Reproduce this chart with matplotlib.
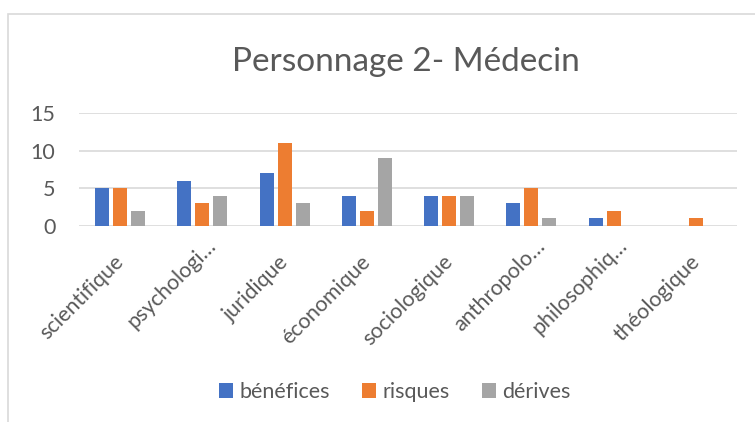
import matplotlib
matplotlib.use('Agg')
import matplotlib.pyplot as plt
import matplotlib.transforms as mtransforms
import numpy as np
from matplotlib.patches import Rectangle

categories = ['scientifique', 'psychologi…', 'juridique', 'économique',
              'sociologique', 'anthropolo…', 'philosophiq…', 'théologique']
benefices = [5, 6, 7, 4, 4, 3, 1, 0]
risques = [5, 3, 11, 2, 4, 5, 2, 1]
derives = [2, 4, 3, 9, 4, 1, 0, 0]
series_names = ['bénéfices', 'risques', 'dérives']

colours = ['#4472C4', '#ED7D31', '#A5A5A5']
text_col = '#595959'
plt.rcParams['font.family'] = ['Lato', 'DejaVu Sans']
fs = 15.5

fig = plt.figure(figsize=(7.55, 4.22), dpi=100, facecolor='w')
# chart frame (cropped at the right and bottom)
fig.patches.append(Rectangle((8/755, -0.1), 1.0, 1 - 14/422 + 0.1,
                             transform=fig.transFigure, fill=False,
                             edgecolor='#D9D9D9', linewidth=1.2))

ax = fig.add_axes([79/755, 1 - 226/422, (737 - 79)/755, (226 - 113)/422])
x = np.arange(len(categories))
width = 0.17
step = 0.22
handles = []
for i, vals in enumerate([benefices, risques, derives]):
    b = ax.bar(x + (i - 1)*step, vals, width, color=colours[i],
               edgecolor='none', zorder=3, label=series_names[i])
    handles.append(b)

ax.set_xlim(-0.5, len(categories) - 0.5)
ax.set_ylim(0, 15)
ax.set_yticks([0, 5, 10, 15])
ax.grid(axis='y', color='#D9D9D9', linewidth=1.2, zorder=0)
for s in ax.spines.values():
    s.set_visible(False)
ax.tick_params(axis='both', length=0, colors=text_col, labelsize=fs)
ax.tick_params(axis='y', pad=17)
ax.set_xticks(x)
ax.set_xticklabels(categories, rotation=45, ha='right', va='baseline',
                   rotation_mode='anchor', color=text_col, fontsize=fs)
ax.tick_params(axis='x', pad=0)
# excel places the truncated labels a bit further along the diagonal
for lbl in ax.get_xticklabels():
    if lbl.get_text().endswith('…'):
        dx, dy = 15, 21
    else:
        dx, dy = 5, 37
    off = mtransforms.ScaledTranslation(dx/100, -dy/100, fig.dpi_scale_trans)
    lbl.set_transform(lbl.get_transform() + off)

fig.text(0.537, 1 - 62/422, 'Personnage 2- Médecin', ha='center', va='center',
         fontsize=24, color=text_col)

fig.legend(handles=handles, labels=series_names, loc='center',
           bbox_to_anchor=(0.523, 1 - 392/422), ncol=3, frameon=False,
           fontsize=fs, labelcolor=text_col, handlelength=0.65,
           handleheight=0.65, handletextpad=0.3, columnspacing=1.5)

fig.savefig('out.png', dpi=100)
